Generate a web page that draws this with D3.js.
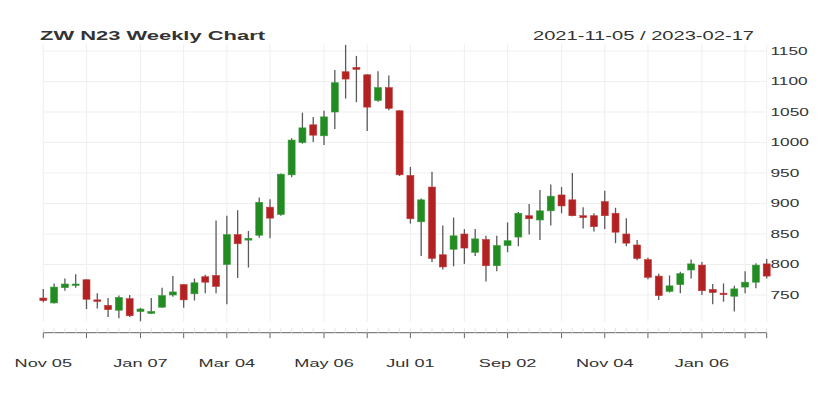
<!DOCTYPE html>
<html><head><meta charset="utf-8">
<script src="https://cdn.jsdelivr.net/npm/d3@7"></script>
<style>html,body{margin:0;padding:0;background:#fff;}svg{display:block;}</style>
</head><body>
<svg id="chart" width="826" height="396"></svg>
<script>
const dates = ["2021-11-05","2021-11-12","2021-11-19","2021-11-26","2021-12-03","2021-12-10","2021-12-17","2021-12-24","2021-12-31",
"2022-01-07","2022-01-14","2022-01-21","2022-01-28","2022-02-04","2022-02-11","2022-02-18","2022-02-25","2022-03-04","2022-03-11",
"2022-03-18","2022-03-25","2022-04-01","2022-04-08","2022-04-15","2022-04-22","2022-04-29","2022-05-06","2022-05-13","2022-05-20",
"2022-05-27","2022-06-03","2022-06-10","2022-06-17","2022-06-24","2022-07-01","2022-07-08","2022-07-15","2022-07-22","2022-07-29",
"2022-08-05","2022-08-12","2022-08-19","2022-08-26","2022-09-02","2022-09-09","2022-09-16","2022-09-23","2022-09-30","2022-10-07",
"2022-10-14","2022-10-21","2022-10-28","2022-11-04","2022-11-11","2022-11-18","2022-11-25","2022-12-02","2022-12-09","2022-12-16",
"2022-12-23","2022-12-30","2023-01-06","2023-01-13","2023-01-20","2023-01-27","2023-02-03","2023-02-10","2023-02-17"];
const open  = [745,737,762,766,775,742,733,725,744,723,720,730,750,767,752,780,782,800,849,840,848,894,882,947,1000,1029,1011,1050,1116,1123,1111,1069,1090,1052,946,870,927,816,825,850,820,841,798,831,845,880,873,888,914,906,880,880,903,884,850,832,808,781,756,767,791,799,759,753,748,763,771,801];
const high  = [760,769,777,784,776,753,745,749,750,729,745,762,781,768,777,783,872,880,889,855,910,907,949,1007,1049,1042,1052,1119,1160,1142,1112,1117,1110,1053,960,908,952,864,877,858,858,847,847,869,886,899,922,931,927,950,894,884,921,893,876,840,811,785,782,788,808,804,768,769,765,789,802,809];
const low   = [738,736,757,762,727,728,714,712,714,707,719,729,747,729,741,753,753,735,778,795,844,843,880,943,998,1001,996,1022,1072,1066,1019,1067,1053,945,867,814,804,792,797,801,814,772,789,820,830,849,840,864,884,879,859,854,858,835,830,807,776,742,754,753,777,750,735,739,723,753,761,777];
const close = [741,763,768,768,743,740,726,746,716,727,723,749,755,742,770,771,764,849,834,843,902,876,948,1004,1024,1012,1042,1098,1104,1120,1058,1090,1056,947,875,906,810,796,847,827,842,798,831,839,884,875,888,912,896,880,877,862,880,853,835,810,779,749,765,785,801,757,754,751,760,771,799,781];
const tickIdx = [0,4,9,13,17,21,26,30,34,39,43,48,52,56,61,65,67];
const labelIdx = [0,9,17,26,34,43,52,61];
const labelText = ["Nov 05","Jan 07","Mar 04","May 06","Jul 01","Sep 02","Nov 04","Jan 06"];
const yTicks = [750,800,850,900,950,1000,1050,1100,1150];
const titleText = "ZW N23 Weekly Chart";
const rangeText = "2021-11-05 / 2023-02-17";

const svg = d3.select("#chart");
const x = d3.scaleLinear().domain([0, dates.length-1]).range([43.3, 766.7]);
const y = d3.scaleLinear().domain([750, 1150]).range([295, 51]);
const yTop = 44, yBot = 322;
const SX = 1.65;
const font = "Liberation Sans, Arial, Helvetica, sans-serif";

// gridlines
svg.append("g").selectAll("line").data(yTicks).join("line")
  .attr("x1", x(0)).attr("x2", x(dates.length-1))
  .attr("y1", d=>y(d)).attr("y2", d=>y(d))
  .attr("stroke", "#efefef").attr("stroke-width", 1);
svg.append("g").selectAll("line").data(tickIdx).join("line")
  .attr("x1", d=>x(d)).attr("x2", d=>x(d))
  .attr("y1", yTop).attr("y2", yBot)
  .attr("stroke", "#efefef").attr("stroke-width", 1);

// candles
const data = dates.map((d,i)=>({i, o:open[i], h:high[i], l:low[i], c:close[i]}));
const g = svg.append("g");
g.selectAll("line.wick").data(data).join("line").attr("class","wick")
  .attr("x1", d=>x(d.i)).attr("x2", d=>x(d.i))
  .attr("y1", d=>y(d.h)).attr("y2", d=>y(d.l))
  .attr("stroke", "#5a5a5a").attr("stroke-width", 1.3);
const bw = 7;
g.selectAll("rect.body").data(data).join("rect").attr("class","body")
  .attr("x", d=>x(d.i)-bw/2).attr("width", bw)
  .attr("y", d=>y(Math.max(d.o,d.c)))
  .attr("height", d=>Math.max(1.5, Math.abs(y(d.o)-y(d.c))))
  .attr("fill", d=>d.c>=d.o ? "#228b22" : "#b22222")
  .attr("stroke", d=>d.c>=d.o ? "#3a9a3a" : "#c03a3a").attr("stroke-width", 0.6);

// x axis
const axY = 332.7;
const ax = svg.append("g");
ax.append("line").attr("x1", x(0)).attr("x2", x(dates.length-1)).attr("y1", axY).attr("y2", axY)
  .attr("stroke", "#666").attr("stroke-width", 1);
ax.selectAll("line.minor").data(d3.range(dates.length)).join("line").attr("class","minor")
  .attr("x1", d=>x(d)).attr("x2", d=>x(d)).attr("y1", axY-4.5).attr("y2", axY)
  .attr("stroke", "#e2e2e2").attr("stroke-width", 1);
ax.selectAll("line.major").data(tickIdx).join("line").attr("class","major")
  .attr("x1", d=>x(d)).attr("x2", d=>x(d)).attr("y1", axY).attr("y2", axY+5.5)
  .attr("stroke", "#666").attr("stroke-width", 1);
ax.selectAll("text").data(labelIdx).join("text")
  .attr("transform", d=>`translate(${x(d)},366.5) scale(${SX},1)`)
  .attr("text-anchor", "middle").attr("font-family", font).attr("font-size", 11)
  .attr("fill", "#333").text((d,i)=>labelText[i]);

// y axis labels
svg.append("g").selectAll("text").data(yTicks).join("text")
  .attr("transform", d=>`translate(770.5,${y(d)+3.8}) scale(1.6,1)`)
  .attr("font-family", font).attr("font-size", 10.8).attr("fill", "#333")
  .text(d=>d);

// titles
svg.append("text").attr("x", 40).attr("y", 39.5).attr("font-family", font)
  .attr("font-size", 13).attr("font-weight", "bold").attr("fill", "#333")
  .attr("textLength", 225).attr("lengthAdjust", "spacingAndGlyphs").text(titleText);
svg.append("text").attr("x", 754).attr("y", 39.5).attr("text-anchor", "end").attr("font-family", font)
  .attr("font-size", 12.5).attr("fill", "#333")
  .attr("textLength", 221).attr("lengthAdjust", "spacingAndGlyphs").text(rangeText);
</script>
</body></html>
